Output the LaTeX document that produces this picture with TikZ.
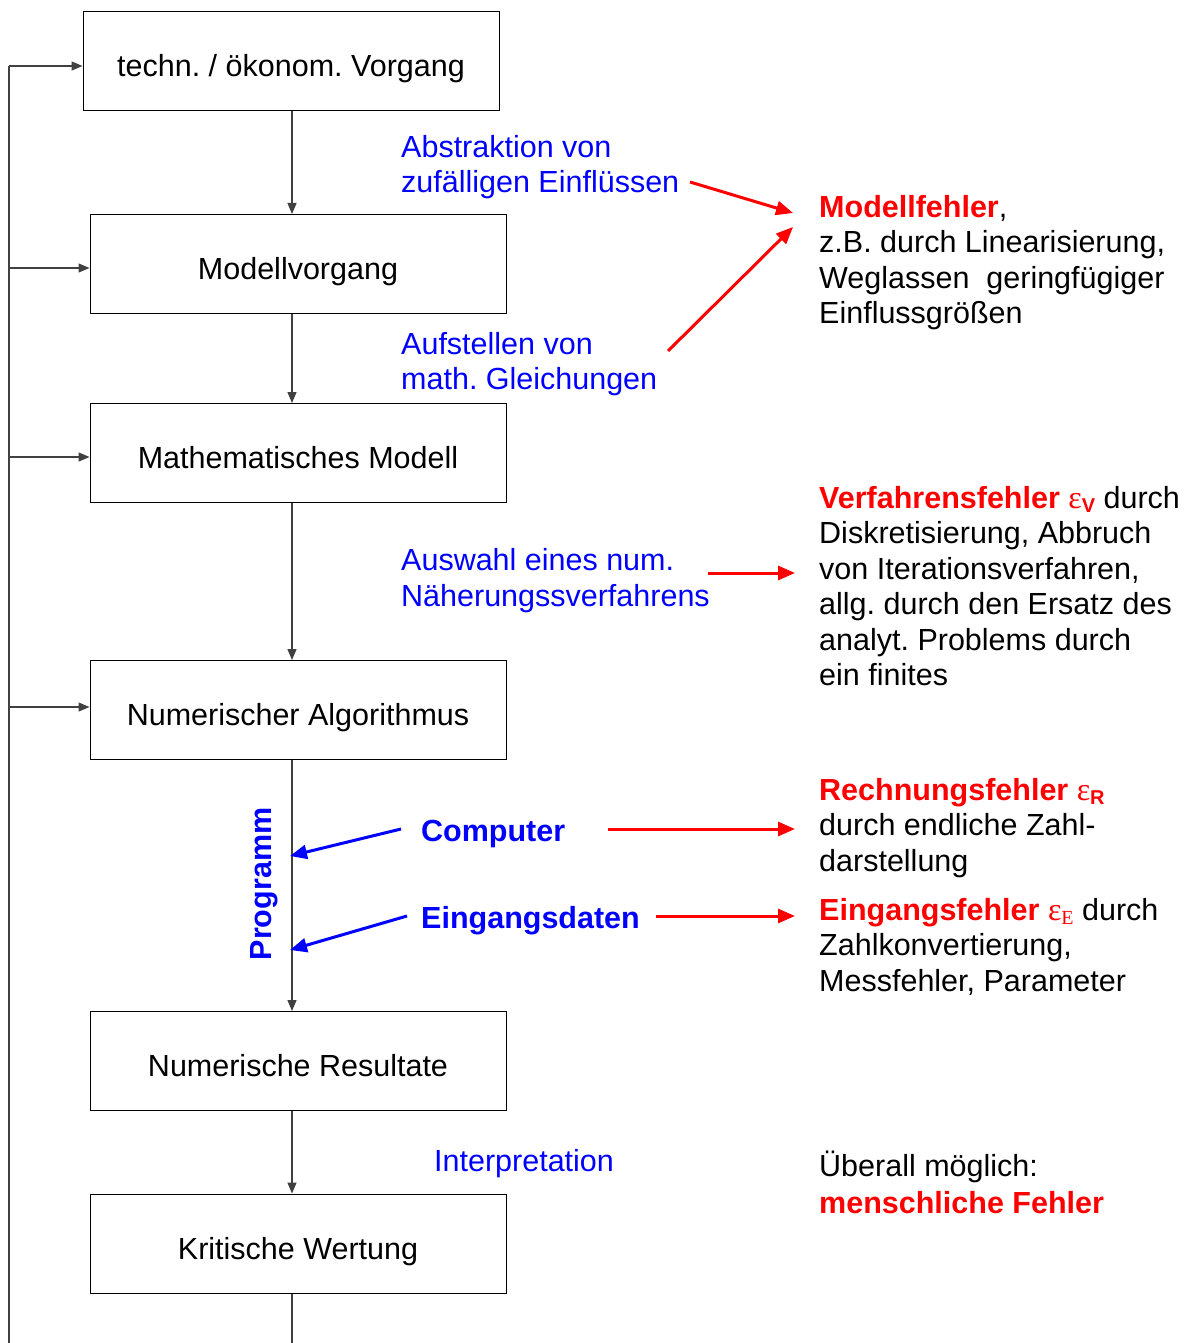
\documentclass[tikz,border=0pt]{standalone}
\usepackage{fontspec}
\setmainfont{Liberation Sans}
\newfontfamily\serifgr{Liberation Serif}
\newfontfamily\arialfam{Liberation Sans}
\usetikzlibrary{arrows.meta}
\definecolor{myblue}{RGB}{0,0,255}
\definecolor{myred}{RGB}{255,0,0}
\frenchspacing
\newcommand\fsz{\fontsize{30.5}{35.5}\selectfont}
\newcommand\epsR[1]{{\color{myred}\fontsize{32}{32}\selectfont\serifgr ε\raisebox{-4pt}{\fontsize{20}{20}\selectfont #1}}}
\begin{document}
\begin{tikzpicture}[x=1pt,y=-1pt,
  boxnode/.style={draw, line width=1pt, minimum width=416pt, minimum height=99pt,
    inner sep=0pt, font=\fsz, text height=31pt, text depth=0pt},
  txt/.style={anchor=base west, inner sep=0pt, font=\fsz},
  bl/.style={txt, text=myblue},
  blk/.style={draw=black!75, line width=1.3pt, -{Triangle[length=11pt,width=9pt]}},
  plain/.style={draw=black!75, line width=1.3pt},
  redarr/.style={draw=myred, line width=3pt, -{Triangle[length=17pt,width=14pt]}},
  bluarr/.style={draw=myblue, line width=3pt, -{Triangle[length=17pt,width=14pt]}}]
\useasboundingbox (0,0) rectangle (1191,1343);

% boxes
\node[boxnode] (b1) at (291,61.5) {techn. / ökonom. Vorgang};
\node[boxnode] (b2) at (298,264) {Modellvorgang};
\node[boxnode] (b3) at (298,453) {Mathematisches Modell};
\node[boxnode] (b4) at (298,710) {Numerischer Algorithmus};
\node[boxnode] (b5) at (298,1061) {Numerische Resultate};
\node[boxnode] (b6) at (298,1243.5) {Kritische Wertung};

% axis coordinates
\coordinate (ax) at (292,0);
\coordinate (bot) at (292,1343);
\coordinate (lbot) at (9,1343);

% main vertical flow
\draw[blk] (b1.south -| ax) -- (b2.north -| ax);
\draw[blk] (b2.south -| ax) -- (b3.north -| ax);
\draw[blk] (b3.south -| ax) -- (b4.north -| ax);
\draw[blk] (b4.south -| ax) -- (b5.north -| ax);
\draw[blk] (b5.south -| ax) -- (b6.north -| ax);
\draw[plain] (b6.south -| ax) -- (bot);

% feedback line
\coordinate (f1) at (9,66);
\coordinate (f2) at (9,268);
\coordinate (f3) at (9,457);
\coordinate (f4) at (9,707);
\draw[plain] (lbot) -- (f1);
\draw[blk] (f1) -- (f1 -| b1.west);
\draw[blk] (f2) -- (f2 -| b2.west);
\draw[blk] (f3) -- (f3 -| b3.west);
\draw[blk] (f4) -- (f4 -| b4.west);

% blue labels
\node[bl] (ab1) at (401,157.5) {Abstraktion von};
\node[bl] (ab2) at (401,192.5) {zufälligen Einflüssen};
\node[bl] (au1) at (401,354) {Aufstellen von};
\node[bl] (au2) at (401,389) {math. Gleichungen};
\node[bl] (aw1) at (401,570) {Auswahl eines num.};
\node[bl] (aw2) at (401,606) {Näherungssverfahrens};
\node[bl, font=\fsz\bfseries] (comp) at (421,841) {Computer};
\node[bl, font=\fsz\bfseries] (eing) at (421,928) {Eingangsdaten};
\node[bl] (interp) at (434,1171) {Interpretation};
\node[rotate=90, anchor=base, inner sep=0pt, font=\fsz\bfseries, text=myblue] (prog) at (271,884) {Programm};

% right texts
\node[txt] (m1) at (819,217) {\textcolor{myred}{\bfseries Modellfehler},};
\node[txt] (m2) at (819,252.5) {z.B. durch Linearisierung,};
\node[txt] (m3) at (819,288) {Weglassen~ geringfügiger};
\node[txt] (m4) at (819,323.5) {Einflussgrößen};

\node[txt] (v1) at (819,508) {\textcolor{myred}{\bfseries Verfahrensfehler} \epsR{\arialfam\bfseries V} durch};
\node[txt] (v2) at (819,543.5) {Diskretisierung, Abbruch};
\node[txt] (v3) at (819,579) {von Iterationsverfahren,};
\node[txt] (v4) at (819,614.5) {allg. durch den Ersatz des};
\node[txt] (v5) at (819,650) {analyt. Problems durch};
\node[txt] (v6) at (819,685.5) {ein finites};

\node[txt] (r1) at (819,800) {\textcolor{myred}{\bfseries Rechnungsfehler} \epsR{\arialfam\bfseries R}};
\node[txt] (r2) at (819,835.5) {durch endliche Zahl-};
\node[txt] (r3) at (819,871) {darstellung};

\node[txt] (e1) at (819,920) {\textcolor{myred}{\bfseries Eingangsfehler} \epsR{E} durch};
\node[txt] (e2) at (819,955.5) {Zahlkonvertierung,};
\node[txt] (e3) at (819,991) {Messfehler, Parameter};

\node[txt] (u1) at (819,1176) {Überall möglich:};
\node[txt, font=\fsz\bfseries, text=myred] (u2) at (819,1213) {menschliche Fehler};

% red arrows
\coordinate (ra1s) at (690,182);
\coordinate (ra1e) at (793,213);
\coordinate (ra2s) at (668,351);
\coordinate (ra2e) at (793,227);
\coordinate (ra3s) at (708,573);
\coordinate (ra3e) at (795,573);
\coordinate (ra4s) at (608,829);
\coordinate (ra4e) at (795,829);
\coordinate (ra5s) at (656,916);
\coordinate (ra5e) at (795,916);
\draw[redarr] (ra1s) -- (ra1e);
\draw[redarr] (ra2s) -- (ra2e);
\draw[redarr] (ra3s) -- (ra3e);
\draw[redarr] (ra4s) -- (ra4e);
\draw[redarr] (ra5s) -- (ra5e);

% blue arrows
\coordinate (ba1s) at (401,829);
\coordinate (ba1e) at (290,856);
\coordinate (ba2s) at (407,916);
\coordinate (ba2e) at (290,950);
\draw[bluarr] (ba1s) -- (ba1e);
\draw[bluarr] (ba2s) -- (ba2e);
\end{tikzpicture}
\end{document}
